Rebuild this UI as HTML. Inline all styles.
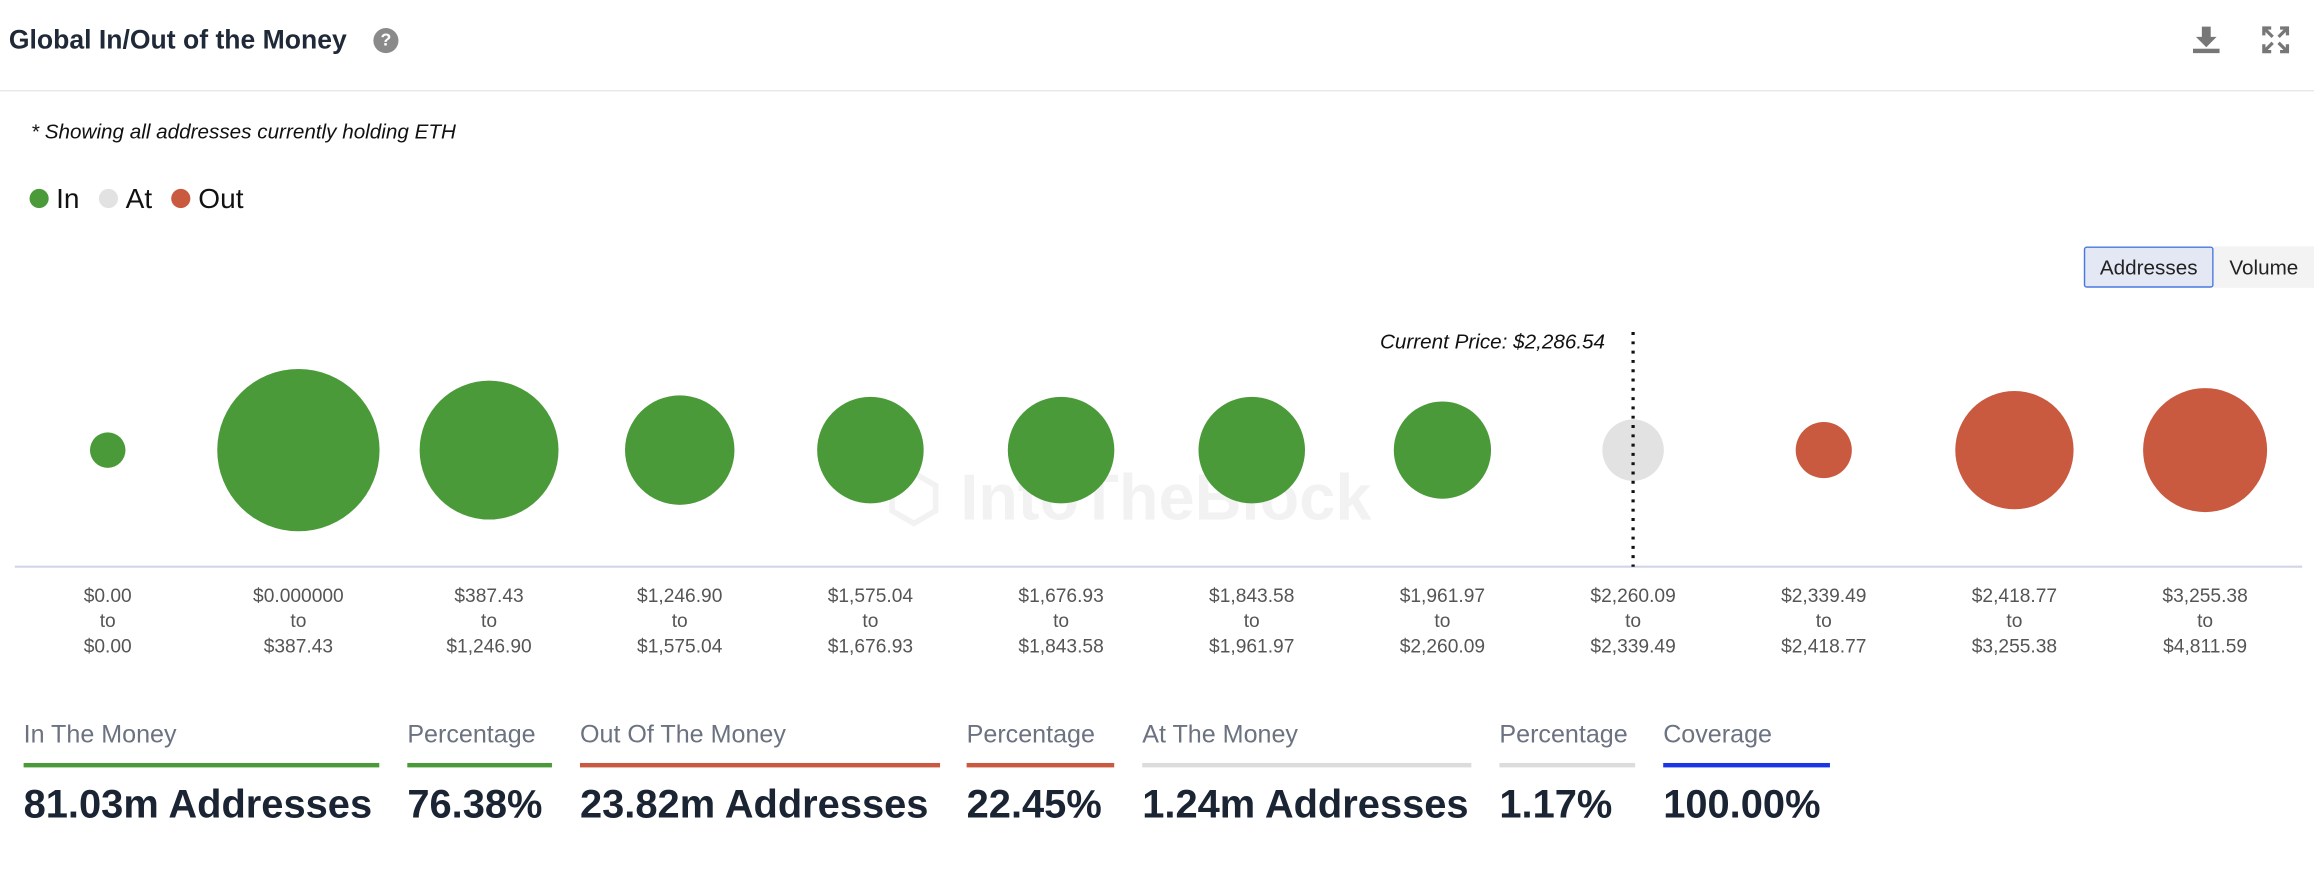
<!DOCTYPE html>
<html><head><meta charset="utf-8"><style>
html,body{margin:0;padding:0;background:#fff;overflow:hidden}
#wrap{position:absolute;left:0;top:0;width:1568px;height:600px;transform:scale(1.47577);transform-origin:0 0;font-family:"Liberation Sans",sans-serif}
.a{position:absolute;white-space:nowrap}
.tick{position:absolute;width:120px;text-align:center;font-size:13px;color:#555;line-height:17px}
.hd{position:absolute;top:488px;font-size:17px;color:#6b7280}
.bar{position:absolute;top:517px;height:3px}
.val{position:absolute;top:530px;font-size:27px;font-weight:bold;color:#1a2433;white-space:nowrap}
</style></head><body>
<div id="wrap">
<div class="a" style="left:6px;top:17px;font-size:18px;font-weight:bold;color:#1f2937">Global In/Out of the Money</div>
<div class="a" style="left:253px;top:19px;width:17px;height:17px;border-radius:50%;background:#8a8a8a;color:#fff;font-size:12px;font-weight:bold;text-align:center;line-height:17px">?</div>
<svg class="a" style="left:1484px;top:16px" width="22" height="22" viewBox="0 0 22 22"><path d="M8 2h6v7h4l-7 7-7-7h4z" fill="#777"/><rect x="2" y="17" width="18" height="3" fill="#777"/></svg>
<svg class="a" style="left:1532px;top:17px" width="20" height="20" viewBox="0 0 20 20" stroke="#777" stroke-width="2.2" fill="none"><path d="M2 7V2h5M13 2h5v5M18 13v5h-5M7 18H2v-5M2 2l6 6M18 2l-6 6M18 18l-6-6M2 18l6-6"/></svg>
<div class="a" style="left:0;top:61px;width:1568px;height:1px;background:#e8e8e8"></div>
<div class="a" style="left:21px;top:81px;font-size:14px;font-style:italic;color:#111">* Showing all addresses currently holding ETH</div>
<div class="a" style="left:20px;top:125px;font-size:19px;color:#111">
<span><span style="display:inline-block;width:13px;height:13px;border-radius:50%;background:#4a9a3a;margin-right:5px"></span>In</span>
<span style="margin-left:8px"><span style="display:inline-block;width:13px;height:13px;border-radius:50%;background:#e2e2e2;margin-right:5px"></span>At</span>
<span style="margin-left:8px"><span style="display:inline-block;width:13px;height:13px;border-radius:50%;background:#c95a40;margin-right:5px"></span>Out</span>
</div>
<div class="a" style="left:1412px;top:167px;width:86px;height:26px;border:1px solid #4a78e0;background:#e4e8f4;border-radius:2px;font-size:14px;color:#222;text-align:center;line-height:26px">Addresses</div>
<div class="a" style="left:1500px;top:167px;width:68px;height:28px;background:#f3f3f3;font-size:14px;color:#222;text-align:center;line-height:28px">Volume</div>
<div class="a" style="left:600px;top:312px;font-size:44px;font-weight:bold;color:#000;opacity:0.05">⬡ IntoTheBlock</div>
<svg id="plot" class="a" style="left:0;top:0" width="1568" height="470"></svg>
<div class="hd" style="left:16px">In The Money</div>
<div class="bar" style="left:16px;width:241px;background:#4a9a3a"></div>
<div class="val" style="left:16px">81.03m Addresses</div>
<div class="hd" style="left:276px">Percentage</div>
<div class="bar" style="left:276px;width:98px;background:#4a9a3a"></div>
<div class="val" style="left:276px">76.38%</div>
<div class="hd" style="left:393px">Out Of The Money</div>
<div class="bar" style="left:393px;width:244px;background:#c95a40"></div>
<div class="val" style="left:393px">23.82m Addresses</div>
<div class="hd" style="left:655px">Percentage</div>
<div class="bar" style="left:655px;width:100px;background:#c95a40"></div>
<div class="val" style="left:655px">22.45%</div>
<div class="hd" style="left:774px">At The Money</div>
<div class="bar" style="left:774px;width:223px;background:#dcdcdc"></div>
<div class="val" style="left:774px">1.24m Addresses</div>
<div class="hd" style="left:1016px">Percentage</div>
<div class="bar" style="left:1016px;width:92px;background:#dcdcdc"></div>
<div class="val" style="left:1016px">1.17%</div>
<div class="hd" style="left:1127px">Coverage</div>
<div class="bar" style="left:1127px;width:113px;background:#1a35e8"></div>
<div class="val" style="left:1127px">100.00%</div>
</div>
<script>
const rangeFrom = ["$0.00","$0.000000","$387.43","$1,246.90","$1,575.04","$1,676.93","$1,843.58","$1,961.97","$2,260.09","$2,339.49","$2,418.77","$3,255.38"];
const rangeTo = ["$0.00","$387.43","$1,246.90","$1,575.04","$1,676.93","$1,843.58","$1,961.97","$2,260.09","$2,339.49","$2,418.77","$3,255.38","$4,811.59"];
const addresses = [1.0,20.9,15.3,9.5,9.0,9.0,9.0,7.5,3.0,2.5,11.1,12.2];
const status = ["in","in","in","in","in","in","in","in","at","out","out","out"];
const currentPrice = 2286.54;
const currentPriceLabel = "Current Price: $2,286.54";

const colors = {in:"#4a9a3a",at:"#e2e2e2",out:"#c95a40"};
const x0=73, step=129.2, cy=305, axisY=384;
const xScale = i => x0 + i*step;
const rScale = v => 12.03*Math.sqrt(v);
const NS="http://www.w3.org/2000/svg";
const svg=document.getElementById('plot');
function mk(t,a){const e=document.createElementNS(NS,t);for(const k in a)e.setAttribute(k,a[k]);svg.appendChild(e);return e;}
const ax=mk('line',{x1:10,x2:1560,y1:axisY,y2:axisY,stroke:'#cfd6ea','stroke-width':1.5});


addresses.forEach((v,i)=>{
  const c=mk('circle',{cx:xScale(i),cy:cy,r:rScale(v),fill:colors[status[i]]});
  
  
});
let pi=0;
const num=s=>parseFloat(s.replace(/[$,]/g,''));
rangeFrom.forEach((f,i)=>{if(currentPrice>=num(f)&&currentPrice<num(rangeTo[i]))pi=i;});
const px=xScale(pi);
const pl=mk('line',{x1:px,x2:px,y1:225,y2:axisY,stroke:'#111','stroke-width':2.2,'stroke-dasharray':'2 4.3'});


const pt=mk('text',{x:px-19,y:236,'text-anchor':'end','font-size':14,'font-style':'italic',fill:'#111','font-family':'Liberation Sans, sans-serif'});
pt.textContent=currentPriceLabel;


rangeFrom.forEach((f,i)=>{
  const d=document.createElement('div');
  d.className='tick';
  d.style.left=(xScale(i)-60)+'px';
  d.style.top='395px';
  d.innerHTML=f+'<br>to<br>'+rangeTo[i];
  
  
  document.getElementById('wrap').appendChild(d);
});
</script>
</body></html>
